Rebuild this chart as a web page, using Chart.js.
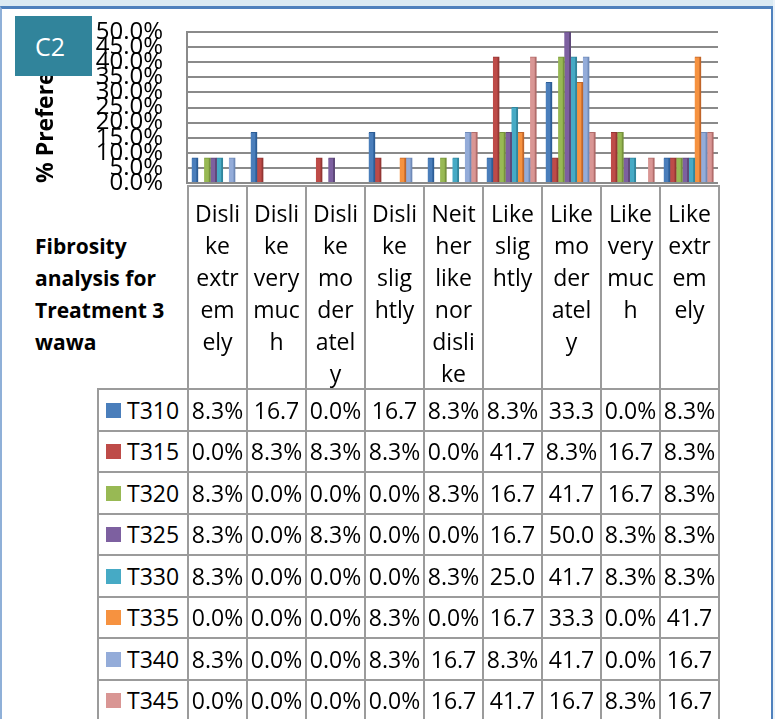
<!DOCTYPE html>
<html><head><meta charset="utf-8">
<script src="https://cdn.jsdelivr.net/npm/chart.js@4.4.0/dist/chart.umd.min.js"></script>
<style>
html,body{margin:0;padding:0;background:#fff;width:775px;height:719px;overflow:hidden;font-family:"Open Sans",sans-serif;}
#topband{position:absolute;left:0;top:0;width:775px;height:6px;background:#dbeaf3;}
#rightband{position:absolute;left:773px;top:0;width:2px;height:719px;background:#eaf2f8;}
#frame{position:absolute;left:0;top:6px;width:773px;height:730px;border-top:3px solid #4f81bd;border-left:2px solid #8fb0d8;border-right:2px solid #4f81bd;box-sizing:border-box;}
#chartwrap{position:absolute;left:0;top:0;width:775px;height:200px;}
#c2{position:absolute;left:15px;top:16px;width:77px;height:60px;background:#31849b;color:#fff;font-size:25px;line-height:60px;box-sizing:border-box;padding-left:20px;z-index:5;}
#xtitle{position:absolute;left:35px;top:230px;font-weight:bold;font-size:21px;line-height:32px;color:#000;}
.cell{position:absolute;box-sizing:border-box;color:#000;font-size:23px;text-align:center;}
.hdr{border-left:2px solid #9b9b9b;line-height:32px;padding-top:10px;}
.dat{border-left:2px solid #9b9b9b;border-top:2px solid #9b9b9b;white-space:nowrap;overflow:hidden;}
.key{display:inline-block;width:15px;height:15px;vertical-align:middle;margin-right:6px;position:relative;top:-2px;}
</style></head>
<body>
<div id="topband"></div>
<div id="frame"></div>
<div id="rightband"></div>
<div id="chartwrap"><canvas id="chart" width="775" height="200"></canvas></div>
<div id="c2">C2</div>
<div id="xtitle">Fibrosity<br>analysis for<br>Treatment 3<br>wawa</div>
<div id="table"></div>
<script>
// ---- data ----
const categories = ["Dislike extremely","Dislike very much","Dislike moderately","Dislike slightly","Neither like nor dislike","Like slightly","Like moderately","Like very much","Like extremely"];
const categoryLines = [["Disli","ke","extr","em","ely"],["Disli","ke","very","muc","h"],["Disli","ke","mo","der","atel","y"],["Disli","ke","slig","htly"],["Neit","her","like","nor","disli","ke"],["Like","slig","htly"],["Like","mo","der","atel","y"],["Like","very","muc","h"],["Like","extr","em","ely"]];
const seriesNames = ["T310","T315","T320","T325","T330","T335","T340","T345"];
const T310 = [8.3,16.7,0.0,16.7,8.3,8.3,33.3,0.0,8.3];
const T315 = [0.0,8.3,8.3,8.3,0.0,41.7,8.3,16.7,8.3];
const T320 = [8.3,0.0,0.0,0.0,8.3,16.7,41.7,16.7,8.3];
const T325 = [8.3,0.0,8.3,0.0,0.0,16.7,50.0,8.3,8.3];
const T330 = [8.3,0.0,0.0,0.0,8.3,25.0,41.7,8.3,8.3];
const T335 = [0.0,0.0,0.0,8.3,0.0,16.7,33.3,0.0,41.7];
const T340 = [8.3,0.0,0.0,8.3,16.7,8.3,41.7,0.0,16.7];
const T345 = [0.0,0.0,0.0,0.0,16.7,41.7,16.7,8.3,16.7];
const seriesValues = [T310,T315,T320,T325,T330,T335,T340,T345];
const yTickValues = [0,5,10,15,20,25,30,35,40,45,50];
const yTitle = "% Preference";

// ---- styles ----
const colors = ["#4a7ebb","#be4b48","#98b954","#7d60a0","#46aac5","#f69240","#94acd9","#d99694"];
const borders = ["#2c5d96","#943634","#76923c","#5f497a","#31859c","#c0652a","#6f8ab8","#b26d6b"];

new Chart(document.getElementById('chart').getContext('2d'), {
  type: 'bar',
  data: {
    labels: categories,
    datasets: seriesNames.map((n,i)=>({
      label: n, data: seriesValues[i],
      backgroundColor: colors[i], borderColor: borders[i],
      borderWidth: {left:0,right:2,top:1,bottom:0}, borderSkipped:'bottom',
      categoryPercentage:0.84, barPercentage:1.0, inflateAmount:0.5
    }))
  },
  options: {
    responsive:false, animation:false, devicePixelRatio:1,
    layout:{padding:{left:0,right:57,top:32,bottom:17}},
    plugins:{legend:{display:false},tooltip:{enabled:false}},
    scales:{
      x:{display:false, offset:true},
      y:{
        min:0, max:50,
        afterBuildTicks(s){ s.ticks = yTickValues.map(v=>({value:v})); },
        ticks:{autoSkip:false, color:'#000', font:{family:'Open Sans',size:24}, padding:0,
               callback:v=>Number(v).toFixed(1)+'%'},
        grid:{color:'#8a8a8a', lineWidth:2, drawTicks:true, tickLength:24, tickColor:'rgba(0,0,0,0)'},
        border:{display:true, color:'#8a8a8a', width:2},
        title:{display:true, text:yTitle, align:'start', color:'#000', font:{family:'Open Sans',size:23,weight:'bold'}, padding:{top:33,bottom:0}},
        afterFit(s){ s.width = 187; }
      }
    }
  }
});

// ---- data table ----
const tbl = document.getElementById('table');
const colX = i => Math.round(187 + i*59);
function add(cls, l, t, w, h, html, extra){
  const d = document.createElement('div');
  d.className = 'cell ' + cls;
  d.style.left = l+'px'; d.style.top = t+'px'; d.style.width = w+'px'; d.style.height = h+'px';
  if (extra) Object.assign(d.style, extra);
  d.innerHTML = html; tbl.appendChild(d); return d;
}
categoryLines.forEach((lines,i)=>{
  const last = i===categoryLines.length-1;
  add('hdr', colX(i), 185, colX(i+1)-colX(i)+(last?2:0), 205, lines.join('<br>'),
      Object.assign({borderTop:'2px solid #9b9b9b'}, last?{borderRight:'2px solid #9b9b9b'}:{}));
});
const rowTop = r => Math.round(388 + r*41.55);
seriesNames.forEach((n,r)=>{
  const t = rowTop(r), h = rowTop(r+1)-t;
  add('dat', 97, t, 90, h+2, '<span class="key" style="background:'+colors[r]+'"></span>'+n,
      {lineHeight:(h-2)+'px', textAlign:'left', paddingLeft:'7px'});
  seriesValues[r].forEach((v,i)=>{
    const last = i===seriesValues[r].length-1;
    const txt = v.toFixed(1) + (v<10 ? '%' : '');
    add('dat', colX(i), t, colX(i+1)-colX(i)+(last?2:0), h+2, txt,
        Object.assign({lineHeight:(h-2)+'px'}, last?{borderRight:'2px solid #9b9b9b'}:{}));
  });
});
</script>
</body></html>
